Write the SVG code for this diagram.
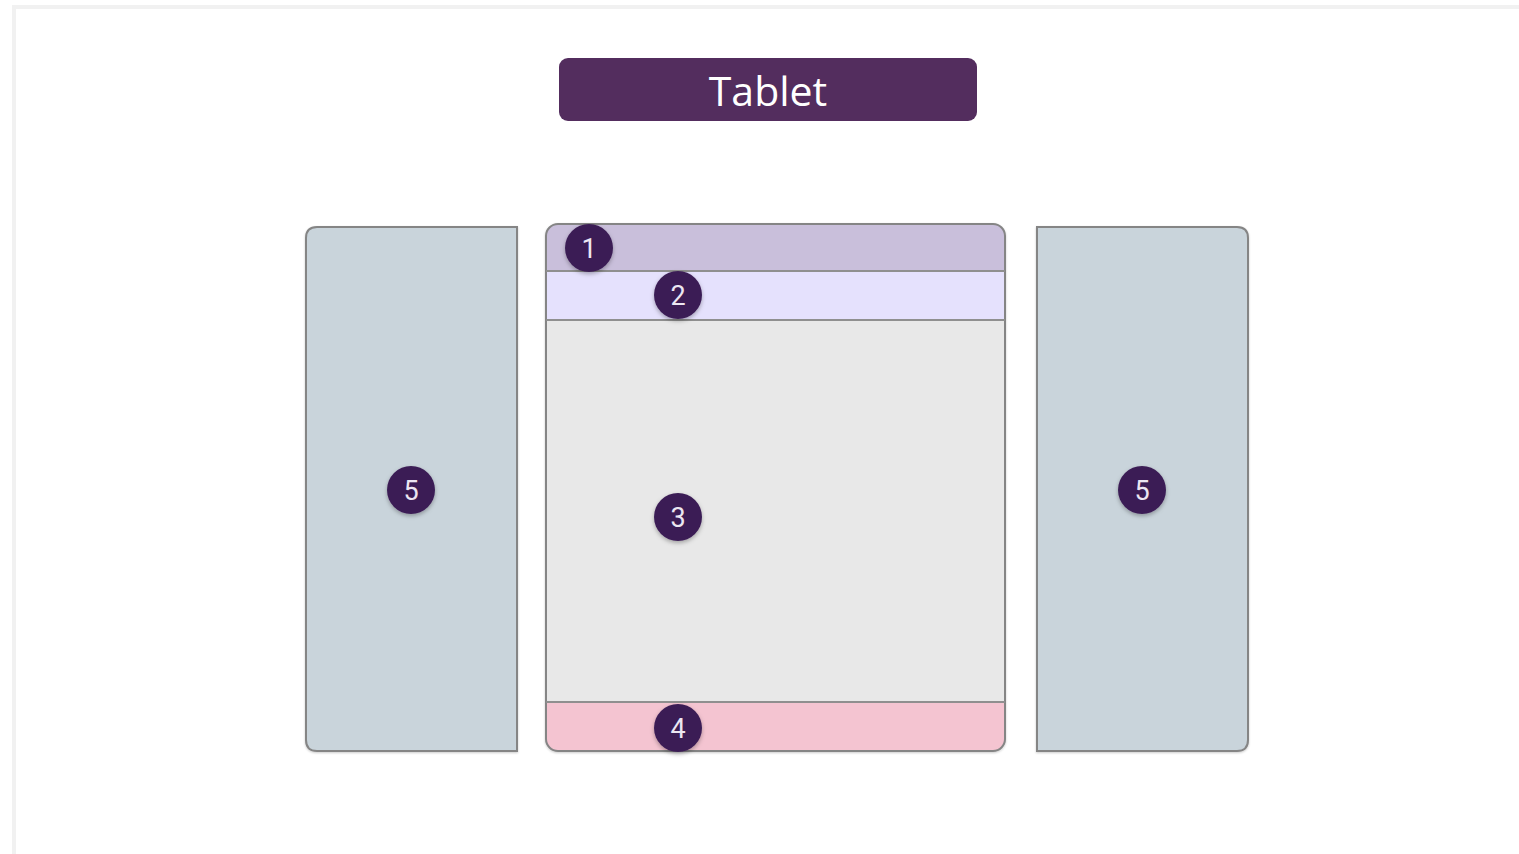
<svg xmlns="http://www.w3.org/2000/svg" width="1519" height="854" viewBox="0 0 1519 854">
<defs>
<style>
.frame{fill:#FFFFFF;stroke:#F1F1F1;stroke-width:4}
.pane{stroke:#858585;stroke-width:2}
.side{fill:#C9D4DB}
.div{stroke:#8F8F8F;stroke-width:2;fill:none}
.badge{fill:#3B1D55}
.num{font-family:Roboto,"Liberation Sans",sans-serif;font-size:27px;fill:#ECE6F2;text-anchor:middle}
.title{font-family:"Open Sans","Liberation Sans",sans-serif;font-size:41px;fill:#FFFFFF;text-anchor:middle}
</style>
<filter id="sh" x="-30%" y="-30%" width="160%" height="170%">
<feDropShadow dx="0" dy="2" stdDeviation="2" flood-color="#000" flood-opacity="0.3"/>
</filter>
<filter id="psh" x="-5%" y="-5%" width="110%" height="110%">
<feDropShadow dx="0" dy="1" stdDeviation="1" flood-color="#000" flood-opacity="0.2"/>
</filter>
</defs>
<rect class="frame" x="14" y="7" width="1520" height="860"/>
<g id="title">
<rect x="559" y="58" width="418" height="63" rx="9" fill="#532D5E"/>
<text class="title" x="768" y="106">Tablet</text>
</g>
<g id="left-pane" filter="url(#psh)">
<path class="pane side" d="M517,227 L317,227 Q306,227 306,238 L306,740 Q306,751 317,751 L517,751 Z"/>
</g>
<g id="right-pane" filter="url(#psh)">
<path class="pane side" d="M1037,227 L1237,227 Q1248,227 1248,238 L1248,740 Q1248,751 1237,751 L1037,751 Z"/>
</g>
<g id="main-pane" filter="url(#psh)">
<path d="M546,271 L546,236 Q546,224 558,224 L993,224 Q1005,224 1005,236 L1005,271 Z" fill="#C9BFDB"/>
<rect x="546" y="271" width="459" height="49" fill="#E5E1FD"/>
<rect x="546" y="320" width="459" height="382" fill="#E8E8E8"/>
<path d="M546,702 L1005,702 L1005,739 Q1005,751 993,751 L558,751 Q546,751 546,739 Z" fill="#F4C4D1"/>
<rect x="546" y="224" width="459" height="527" rx="12" fill="none" class="pane"/>
<line class="div" x1="546" y1="271" x2="1005" y2="271"/>
<line class="div" x1="546" y1="320" x2="1005" y2="320"/>
<line class="div" x1="546" y1="702" x2="1005" y2="702"/>
</g>
<g id="badge-1"><circle class="badge" cx="589" cy="248" r="24" filter="url(#sh)"/><text class="num" x="589" y="258">1</text></g>
<g id="badge-2"><circle class="badge" cx="678" cy="295" r="24" filter="url(#sh)"/><text class="num" x="678" y="305">2</text></g>
<g id="badge-3"><circle class="badge" cx="678" cy="517" r="24" filter="url(#sh)"/><text class="num" x="678" y="527">3</text></g>
<g id="badge-4"><circle class="badge" cx="678" cy="728" r="24" filter="url(#sh)"/><text class="num" x="678" y="738">4</text></g>
<g id="badge-5a"><circle class="badge" cx="411" cy="490" r="24" filter="url(#sh)"/><text class="num" x="411" y="500">5</text></g>
<g id="badge-5b"><circle class="badge" cx="1142" cy="490" r="24" filter="url(#sh)"/><text class="num" x="1142" y="500">5</text></g>
<g id="connectors"/>
</svg>
